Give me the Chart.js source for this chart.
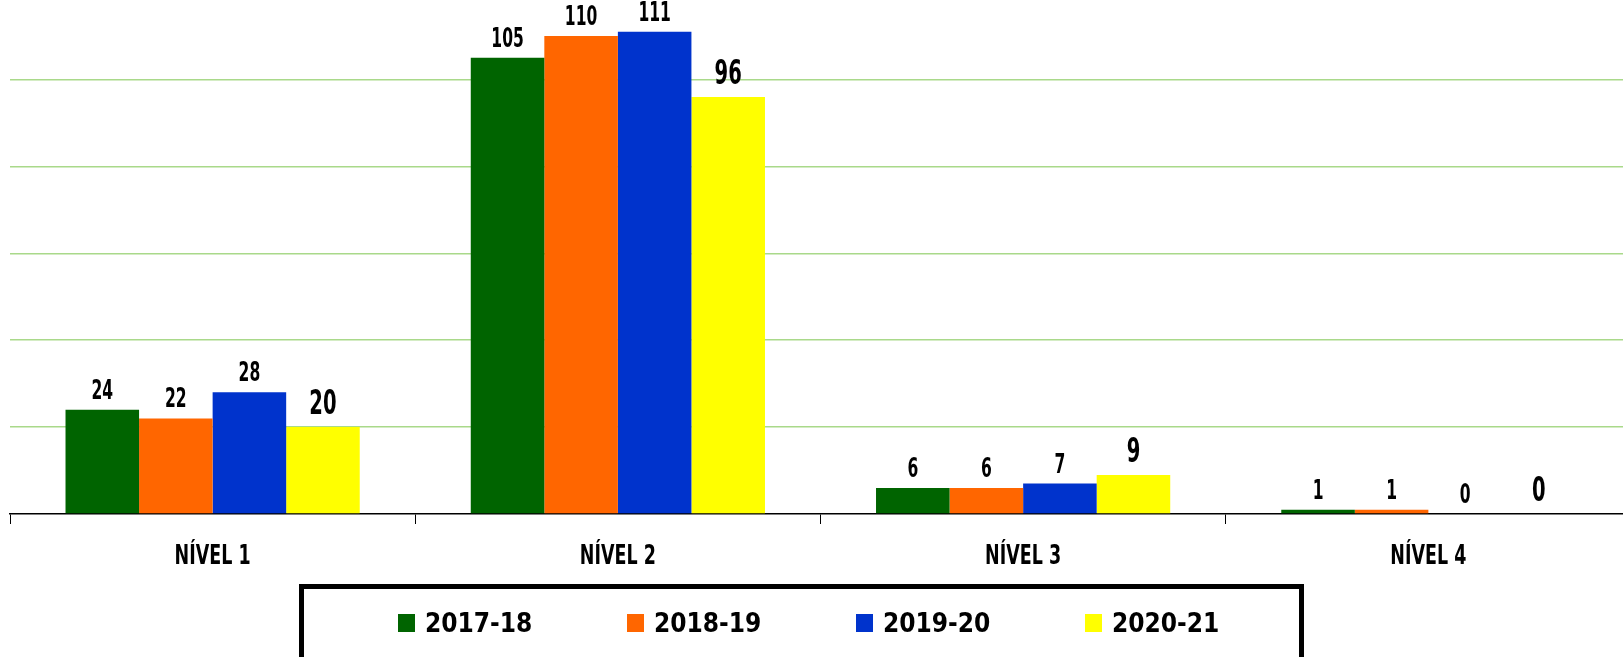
<!DOCTYPE html>
<html>
<head>
<meta charset="utf-8">
<script src="https://cdn.jsdelivr.net/npm/chart.js@4/dist/chart.umd.min.js"></script>
<style>
  html, body { margin: 0; padding: 0; background: #fff; overflow: hidden; }
  #wrap { position: relative; width: 1631px; height: 657px; }
  #legendBox {
    position: absolute; left: 299px; top: 584px; width: 995px; height: 90px;
    border: 5px solid #000; background: #fff;
  }
  #legendRow {
    position: absolute; left: 94px; top: 20px; height: 28px;
    display: flex; align-items: center;
  }
  .item { width: 229px; display: flex; align-items: center; }
  .swatch { width: 17px; height: 18px; margin-right: 10px; }
  .txt { font-family: 'DejaVu Sans Condensed', 'DejaVu Sans', sans-serif; font-stretch: condensed;
         font-weight: bold; font-size: 26px; color: #000; }
</style>
</head>
<body>
<div id="wrap">
  <canvas id="myChart" width="1631" height="657"></canvas>
  <div id="legendBox"><div id="legendRow"></div></div>
</div>
<script>
// categories and series
let categories = ['NÍVEL 1', 'NÍVEL 2', 'NÍVEL 3', 'NÍVEL 4'];
let seriesNames = ['2017-18', '2018-19', '2019-20', '2020-21'];
let seriesColors = ['#006400', '#ff6600', '#0033cc', '#ffff00'];
let values1718 = [24, 105, 6, 1];
let values1819 = [22, 110, 6, 1];
let values1920 = [28, 111, 7, 0];
let values2021 = [20, 96, 9, 0];
let gridTicks = [20, 40, 60, 80, 100];

let allValues = [values1718, values1819, values1920, values2021];

let condensed = "'DejaVu Sans Condensed', 'DejaVu Sans', sans-serif";

//build the datasets from the arrays above
function buildDatasets() {
    let sets = [];
    for (let i = 0; i < seriesNames.length; i++) {
        sets.push({
            label: seriesNames[i],
            data: allValues[i],
            backgroundColor: seriesColors[i],
            borderWidth: 0
        });
    }
    return sets;
}

//draw text squeezed sideways, the original font is a narrow one
function narrowText(ctx, text, x, y, squeeze) {
    ctx.save();
    ctx.translate(x, y);
    ctx.scale(squeeze, 1);
    ctx.fillText(text, 0, 0);
    ctx.restore();
}

//value labels above each bar + category names under the axis
const barLabels = {
    id: 'barLabels',
    afterDatasetsDraw(chart) {
        let ctx = chart.ctx;
        ctx.save();
        ctx.fillStyle = '#000';
        ctx.textAlign = 'center';
        ctx.textBaseline = 'alphabetic';
        chart.data.datasets.forEach((ds, i) => {
            let big = i === 3;
            ctx.font = 'bold ' + (big ? 34 : 27) + 'px ' + condensed;
            chart.getDatasetMeta(i).data.forEach((bar, j) => {
                narrowText(ctx, String(ds.data[j]), bar.x, bar.y - (big ? 13 : 11), 0.64);
            });
        });
        let xScale = chart.scales.x;
        ctx.font = 'bold 27px ' + condensed;
        categories.forEach((name, i) => {
            narrowText(ctx, name, xScale.getPixelForValue(i), chart.chartArea.bottom + 50, 0.72);
        });
        ctx.restore();
    }
};

let elCanvas = document.getElementById('myChart').getContext('2d');

let elChart = new Chart(elCanvas, {
    type: 'bar',
    data: {
        labels: categories,
        datasets: buildDatasets()
    },
    plugins: [barLabels],
    options: {
        responsive: false,
        animation: false,
        events: [],
        datasets: {
            bar: { categoryPercentage: 0.726, barPercentage: 1.0 }
        },
        layout: {
            padding: { left: 10, right: 0, top: 0, bottom: 133 }
        },
        plugins: {
            legend: { display: false },
            tooltip: { enabled: false }
        },
        scales: {
            x: {
                grid: {
                    offset: true,
                    drawOnChartArea: false,
                    drawTicks: true,
                    tickLength: 10,
                    color: '#000',
                    lineWidth: 1
                },
                border: { display: true, color: '#000', width: 1.5 },
                ticks: { display: false }
            },
            y: {
                min: 0,
                max: 118.3,
                afterBuildTicks(scale) {
                    scale.ticks = [0].concat(gridTicks).map(v => ({ value: v }));
                },
                grid: {
                    drawTicks: false,
                    lineWidth: 1.5,
                    color: (c) => c.tick && c.tick.value > 0 ? '#a9d98a' : 'rgba(0,0,0,0)'
                },
                border: { display: false },
                ticks: { display: false }
            }
        }
    }
});

//html legend in the framed box under the chart
let elRow = document.getElementById('legendRow');
for (let i = 0; i < seriesNames.length; i++) {
    let item = document.createElement('div');
    item.className = 'item';
    item.innerHTML = '<span class="swatch" style="background:' + seriesColors[i] + '"></span>' +
        '<span class="txt">' + seriesNames[i] + '</span>';
    elRow.appendChild(item);
}
</script>
</body>
</html>
